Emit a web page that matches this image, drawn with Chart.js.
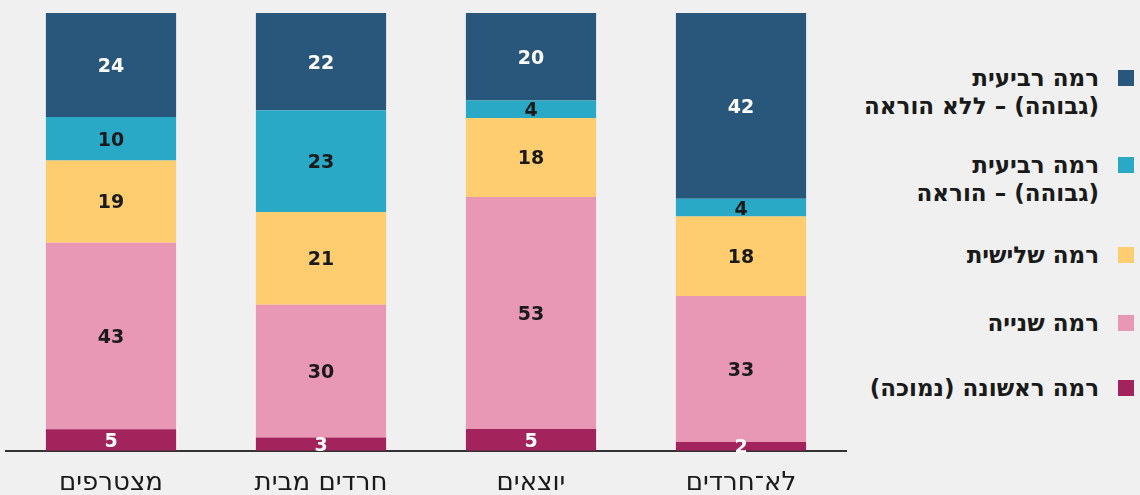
<!DOCTYPE html>
<html lang="he">
<head>
<meta charset="utf-8">
<script src="https://cdn.jsdelivr.net/npm/chart.js@4"></script>
<style>
  html, body { margin: 0; padding: 0; background: #f0f0f0; }
  body { width: 1140px; height: 495px; position: relative; overflow: hidden; font-family: "DejaVu Sans", sans-serif; }
  #wrap { position: absolute; left: 0; top: 0; width: 850px; height: 510px; }
  #legend { position: absolute; right: 6px; top: 0; width: 300px; direction: rtl; }
  .item { position: absolute; right: 0; display: flex; align-items: flex-start; }
  .box { width: 16px; height: 16px; margin-left: 19px; margin-top: 6px; flex: none; }
  .txt { font-size: 23px; font-weight: bold; line-height: 28px; color: #1a1a1a; text-align: right; white-space: nowrap; }
</style>
</head>
<body>
<div id="wrap"><canvas id="myChart"></canvas></div>
<div id="legend"></div>
<script>
const categories = ["מצטרפים", "חרדים מבית", "יוצאים", "לא־חרדים"];
// bottom to top
const level1 = [5, 3, 5, 2];
const level2 = [43, 30, 53, 33];
const level3 = [19, 21, 18, 18];
const level4Teach = [10, 23, 4, 4];
const level4NoTeach = [24, 22, 20, 42];

const seriesNames = [
  ["רמה ראשונה (נמוכה)"],
  ["רמה שנייה"],
  ["רמה שלישית"],
  ["רמה רביעית", "(גבוהה) – הוראה"],
  ["רמה רביעית", "(גבוהה) – ללא הוראה"]
];
const seriesColors = ["#a3235c", "#e897b5", "#fecd70", "#29a9c5", "#28577b"];
const labelColors = ["#ffffff", "#1a1a1a", "#1a1a1a", "#1a1a1a", "#ffffff"];
const seriesValues = [level1, level2, level3, level4Teach, level4NoTeach];

const totals = categories.map((c, i) => seriesValues.reduce((s, arr) => s + arr[i], 0));

const datasets = seriesValues.map((vals, k) => ({
  label: seriesNames[k].join(" "),
  raw: vals,
  data: vals.map((v, i) => v / totals[i] * 100),
  backgroundColor: seriesColors[k],
  borderWidth: 0,
  barPercentage: 0.62,
  categoryPercentage: 1,
  valueColor: labelColors[k]
}));

const valueLabels = {
  id: "valueLabels",
  afterDatasetsDraw(chart) {
    const ctx = chart.ctx;
    ctx.save();
    ctx.font = "bold 19px 'DejaVu Sans', sans-serif";
    ctx.textAlign = "center";
    ctx.textBaseline = "middle";
    chart.data.datasets.forEach((ds, k) => {
      chart.getDatasetMeta(k).data.forEach((bar, i) => {
        const p = bar.getCenterPoint();
        ctx.fillStyle = ds.valueColor;
        ctx.fillText(String(ds.raw[i]), p.x, p.y + 2);
      });
    });
    ctx.restore();
  }
};

const ctx = document.getElementById("myChart").getContext("2d");
const chart = new Chart(ctx, {
  type: "bar",
  data: { labels: categories, datasets: datasets },
  plugins: [valueLabels],
  options: {
    responsive: true,
    maintainAspectRatio: false,
    animation: false,
    layout: { padding: { top: 13, left: 6, right: 4, bottom: 2 } },
    plugins: { legend: { display: false }, tooltip: { enabled: false } },
    scales: {
      x: {
        stacked: true,
        grid: { display: false },
        border: { display: true, color: "#333333", width: 2 },
        ticks: { color: "#1a1a1a", font: { size: 26, family: "'DejaVu Sans', sans-serif" }, padding: 9 }
      },
      y: {
        stacked: true,
        display: false,
        min: 0,
        max: 100
      }
    }
  }
});

// legend, top to bottom
const legendTops = [64, 151, 241, 309, 374];
const legend = document.getElementById("legend");
for (let k = seriesNames.length - 1, n = 0; k >= 0; k--, n++) {
  const item = document.createElement("div");
  item.className = "item";
  item.style.top = legendTops[n] + "px";
  item.innerHTML = `<div class="box" style="background:${seriesColors[k]}"></div>
    <div class="txt">${seriesNames[k].join("<br>")}</div>`;
  legend.appendChild(item);
}
</script>
</body>
</html>
